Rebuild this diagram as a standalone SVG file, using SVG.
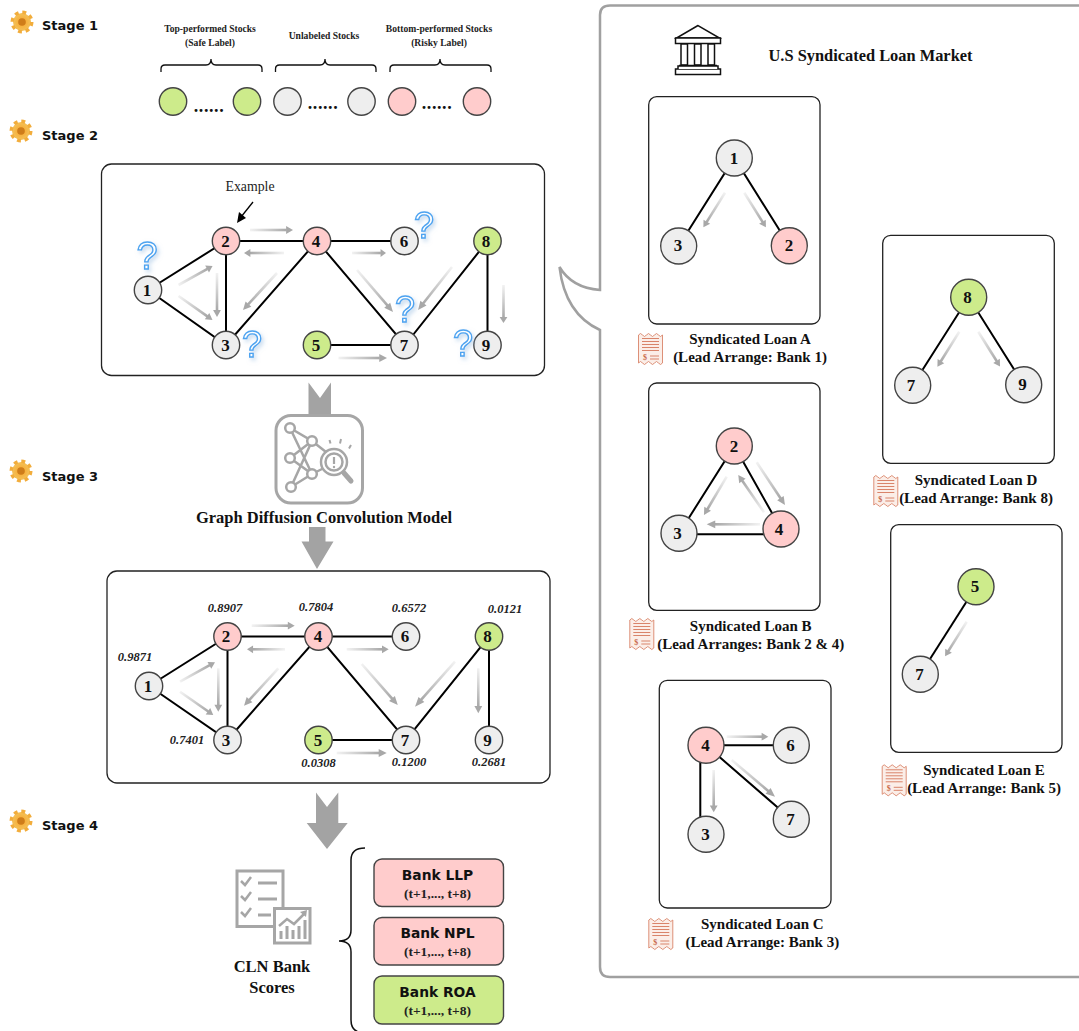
<svg xmlns="http://www.w3.org/2000/svg" xmlns:xlink="http://www.w3.org/1999/xlink" width="1079" height="1031" viewBox="0 0 1079 1031">
<style>
text{font-family:"Liberation Serif","Times New Roman",serif}
.st{font-family:"DejaVu Sans",sans-serif;font-weight:700;font-size:13px;fill:#111}
.b9{font-weight:700;font-size:9.600px;text-anchor:middle;fill:#222}
.dots{font-weight:700;font-size:18px;text-anchor:middle;fill:#111;letter-spacing:.6px}
.n{font-weight:700;font-size:17px;text-anchor:middle;fill:#111}
.m{font-weight:700;font-size:17px;text-anchor:middle;fill:#111}
.t{font-weight:700;font-size:16.500px;text-anchor:middle;fill:#111}
.s{font-weight:700;font-style:italic;font-size:12.500px;text-anchor:middle;fill:#222}
.cap{font-weight:700;font-size:15px;text-anchor:middle;fill:#111}
.bk{font-family:"DejaVu Sans",sans-serif;font-weight:700;font-size:13.800px;text-anchor:middle;fill:#111}
.sub{font-weight:700;font-size:13.500px;text-anchor:middle;fill:#222}
.q{font-family:"Liberation Sans",sans-serif;font-size:38px;text-anchor:middle;fill:#fff;stroke:#4da3f0;stroke-width:1.4;filter:url(#sh)}
.box{fill:#fff;stroke:#222;stroke-width:1.3}
.p{stroke:#444;stroke-width:1.4;fill:#ffcccc}
.g{stroke:#444;stroke-width:1.4;fill:#cdeb8b}
.w{stroke:#444;stroke-width:1.4;fill:#eeeeee}
.e{stroke:#000;stroke-width:2;fill:none}
.ic{fill:none;stroke:#a6a6a6;stroke-width:3}
.br{fill:none;stroke:#111;stroke-width:1.3}
.ar{fill:#a3a3a3}
.rl{stroke:#d9846a;stroke-width:1}
</style>
<defs>
<linearGradient id="fade"><stop offset="0" stop-color="#aaa" stop-opacity=".15"/><stop offset="1" stop-color="#a8a8a8"/></linearGradient>
<radialGradient id="org"><stop offset="0" stop-color="#e08a20"/><stop offset=".45" stop-color="#f7b23f"/><stop offset="1" stop-color="#f2c15a"/></radialGradient>
<filter id="sh" x="-40%" y="-40%" width="190%" height="190%"><feDropShadow dx="2" dy="2.5" stdDeviation="2" flood-color="#8fb6de" flood-opacity=".5"/></filter>
<g id="ga"><rect x="0" y="-1.300" width="85" height="2.600" fill="url(#fade)"/><polygon points="84,-3.900 100,0 84,3.900" fill="#a8a8a8"/></g>
<g id="gear"><circle r="9" fill="url(#org)"/><circle r="9.8" fill="none" stroke="#f2ad3c" stroke-width="3.4" stroke-dasharray="3.9 3.8"/><circle r="3.8" fill="#cf7d1a"/></g>
<g id="rc"><path d="M.5 3q2-3 4 0t4 0t4 0t4 0t4 0t4 0V31q-2 3-4 0t-4 0t-4 0t-4 0t-4 0t-4 0Z" fill="#fbeee8" stroke="#d9846a" stroke-width=".9"/>
<path class="rl" d="M4 6.500H21M4 9.500H21M4 12.500H21M4 15.500H21M4 18.500H21M12 24H21M12 27H21"/>
<text x="7" y="28" font-size="8" font-weight="700" text-anchor="middle" fill="#c9694a">$</text></g>
</defs>
<rect width="1079" height="1031" fill="#fff"/>

<g id="stage-labels">
<use href="#gear" x="22" y="22"/><text class="st" x="42" y="30">Stage 1</text>
<use href="#gear" x="21" y="131"/><text class="st" x="42" y="140">Stage 2</text>
<use href="#gear" x="21" y="471"/><text class="st" x="42" y="481">Stage 3</text>
<use href="#gear" x="21" y="821"/><text class="st" x="42" y="830">Stage 4</text>
</g>

<g id="stage1-legend">
<text class="b9" x="210" y="32">Top-performed Stocks</text><text class="b9" x="210" y="46">(Safe Label)</text>
<text class="b9" x="324" y="39">Unlabeled Stocks</text>
<text class="b9" x="439" y="32">Bottom-performed Stocks</text><text class="b9" x="439" y="46">(Risky Label)</text>
<path class="br" d="M161 72V69Q161 65 165 65H206Q211 65 211 59Q211 65 216 65H258Q262 65 262 69V72"/>
<path class="br" d="M275.500 72V69Q275.500 65 279.500 65H320Q325 65 325 59Q325 65 330 65H372Q376 65 376 69V72"/>
<path class="br" d="M390 72V69Q390 65 394 65H435Q440 65 440 59Q440 65 445 65H487Q491 65 491 69V72"/>
<circle class="g" cx="173" cy="101.500" r="13.700"/><circle class="g" cx="247" cy="101.500" r="13.700"/>
<circle class="w" cx="287.500" cy="101.500" r="13.700"/><circle class="w" cx="361.500" cy="101.500" r="13.700"/>
<circle class="p" cx="402" cy="101.500" r="13.700"/><circle class="p" cx="477" cy="101.500" r="13.700"/>
<text class="dots" x="209" y="112">......</text><text class="dots" x="323" y="109">......</text><text class="dots" x="437" y="109">......</text>
</g>

<rect id="stage2-box" class="box" x="101.500" y="164" width="443" height="211.500" rx="10"/>
<g id="connectors-stage2">
<path class="e" d="M226 241H317H405M148 290L226 241V345L148 290M226 345L317 241L405 345L487.500 241V345M317 345H405"/>
<use href="#ga" transform="translate(250 230) scale(.43 1)"/>
<use href="#ga" transform="translate(284 253) rotate(180) scale(.4 1)"/>
<use href="#ga" transform="translate(352 253) scale(.34 1)"/>
<use href="#ga" transform="translate(178.500 285) rotate(-29.200) scale(.39 1)"/>
<use href="#ga" transform="translate(178.500 296) rotate(35.200) scale(.416 1)"/>
<use href="#ga" transform="translate(217 273) rotate(90) scale(.44 1)"/>
<use href="#ga" transform="translate(277 273) rotate(132.600) scale(.502 1)"/>
<use href="#ga" transform="translate(357 270) rotate(49.400) scale(.553 1)"/>
<use href="#ga" transform="translate(452 267) rotate(128.300) scale(.548 1)"/>
<use href="#ga" transform="translate(503.500 285) rotate(90) scale(.38 1)"/>
<use href="#ga" transform="translate(338.500 358) scale(.485 1)"/>
<path d="M253 202L241 217" stroke="#000" stroke-width="1.300"/><polygon points="237,223 239,212 246,218" fill="#000"/>
</g>
<text x="250" y="191" font-size="13.800" text-anchor="middle" fill="#222">Example</text>
<g id="s2-n1"><circle class="w" cx="148" cy="290" r="13.700"/><text class="n" x="147" y="295.500">1</text></g>
<g id="s2-n2"><circle class="p" cx="226" cy="241" r="13.700"/><text class="n" x="225.500" y="246.500">2</text></g>
<g id="s2-n3"><circle class="w" cx="226" cy="345" r="13.700"/><text class="n" x="225.500" y="350.500">3</text></g>
<g id="s2-n4"><circle class="p" cx="317" cy="241" r="13.700"/><text class="n" x="316" y="246.500">4</text></g>
<g id="s2-n5"><circle class="g" cx="317" cy="345" r="13.700"/><text class="n" x="316" y="350.500">5</text></g>
<g id="s2-n6"><circle class="w" cx="404.500" cy="241" r="13.700"/><text class="n" x="404" y="246.500">6</text></g>
<g id="s2-n7"><circle class="w" cx="404.500" cy="345" r="13.700"/><text class="n" x="404" y="350.500">7</text></g>
<g id="s2-n8"><circle class="g" cx="487.500" cy="241" r="13.700"/><text class="n" x="486" y="246.500">8</text></g>
<g id="s2-n9"><circle class="w" cx="487.500" cy="345" r="13.700"/><text class="n" x="486" y="350.500">9</text></g>
<g id="question-marks">
<text class="q" x="147" y="269">?</text>
<text class="q" x="424" y="238" style="font-size:36px">?</text>
<text class="q" x="252" y="357" style="font-size:36px">?</text>
<text class="q" x="405" y="322" style="font-size:36px">?</text>
<text class="q" x="463" y="356" style="font-size:36px">?</text>
</g>

<polygon id="arrow-2-3" class="ar" points="308.500,382.500 320,398 331,382.500 331,418 308.500,418"/>
<g id="model-icon">
<rect x="276" y="415.500" width="86.500" height="87.500" rx="15" fill="#fff" stroke="#a6a6a6" stroke-width="3"/>
<path class="ic" d="M290 428L312 441L290 458L312 474L291 487M290 428L312 474M291 487L312 441M312 441L326 452M312 474L324 468M290 458L312 441" style="stroke-width:2.500"/>
<g fill="#fff" stroke="#a6a6a6" stroke-width="2.500"><circle cx="290" cy="428" r="4.800"/><circle cx="312" cy="441" r="4.800"/><circle cx="290" cy="458" r="4.800"/><circle cx="312" cy="474" r="4.800"/><circle cx="291" cy="487" r="4.800"/><circle cx="334" cy="462" r="13"/><circle cx="334" cy="462" r="8.500"/></g>
<path d="M344 473L351 481" stroke="#a6a6a6" stroke-width="5" stroke-linecap="round"/>
<path d="M329.500 440L330.500 443.500M341 439L340 443.500M351 445L349 448.500" stroke="#a6a6a6" stroke-width="2" fill="none"/>
<path d="M334 457V464" stroke="#a6a6a6" stroke-width="2.200"/><circle cx="334" cy="467" r="1.200" fill="#a6a6a6"/>
</g>
<text id="model-title" x="324" y="523" font-size="16.500" font-weight="700" text-anchor="middle" fill="#111">Graph Diffusion Convolution Model</text>
<polygon id="arrow-3" class="ar" points="309,527 325.500,527 325.500,541.500 333.500,541.500 317,569 301.500,541.500 309,541.500"/>

<rect id="stage3-box" class="box" x="107" y="571" width="443" height="212" rx="10"/>
<g id="connectors-stage3">
<path class="e" d="M227.500 636.500H318.500H406M149 686L227.500 636.500V740L149 686M227.500 740L318.500 636.500L406 740L489 636.500V740M318.500 740H406"/>
<use href="#ga" transform="translate(251.700 625.700) scale(.43 1)"/>
<use href="#ga" transform="translate(285 649.300) rotate(180) scale(.38 1)"/>
<use href="#ga" transform="translate(346.700 649.300) scale(.42 1)"/>
<use href="#ga" transform="translate(180 681.700) rotate(-29) scale(.4 1)"/>
<use href="#ga" transform="translate(180 691.700) rotate(35) scale(.406 1)"/>
<use href="#ga" transform="translate(218.300 668.300) rotate(90) scale(.434 1)"/>
<use href="#ga" transform="translate(278.300 668.300) rotate(132.500) scale(.507 1)"/>
<use href="#ga" transform="translate(361.700 664) rotate(48.700) scale(.546 1)"/>
<use href="#ga" transform="translate(455 661.700) rotate(131.600) scale(.602 1)"/>
<use href="#ga" transform="translate(478.300 668.300) rotate(90) scale(.45 1)"/>
<use href="#ga" transform="translate(336.700 753) scale(.5 1)"/>
</g>
<g id="s3-n1"><circle class="w" cx="149" cy="686" r="13.700"/><text class="n" x="148" y="691.500">1</text></g>
<g id="s3-n2"><circle class="p" cx="227.500" cy="636.500" r="13.700"/><text class="n" x="226" y="642">2</text></g>
<g id="s3-n3"><circle class="w" cx="227.500" cy="740" r="13.700"/><text class="n" x="226" y="745.500">3</text></g>
<g id="s3-n4"><circle class="p" cx="318.500" cy="636.500" r="13.700"/><text class="n" x="318" y="642">4</text></g>
<g id="s3-n5"><circle class="g" cx="318.500" cy="740" r="13.700"/><text class="n" x="318" y="745.500">5</text></g>
<g id="s3-n6"><circle class="w" cx="406" cy="636.500" r="13.700"/><text class="n" x="405" y="642">6</text></g>
<g id="s3-n7"><circle class="w" cx="406" cy="740" r="13.700"/><text class="n" x="405" y="745.500">7</text></g>
<g id="s3-n8"><circle class="g" cx="489" cy="636.500" r="13.700"/><text class="n" x="487.500" y="642">8</text></g>
<g id="s3-n9"><circle class="w" cx="489" cy="740" r="13.700"/><text class="n" x="487.500" y="745.500">9</text></g>
<g id="scores">
<text class="s" x="225" y="612">0.8907</text><text class="s" x="316" y="611">0.7804</text><text class="s" x="409" y="612">0.6572</text><text class="s" x="505" y="612.500">0.0121</text>
<text class="s" x="135" y="661">0.9871</text><text class="s" x="187" y="744">0.7401</text><text class="s" x="318.500" y="767">0.0308</text><text class="s" x="409" y="766">0.1200</text><text class="s" x="489" y="766">0.2681</text>
</g>

<polygon id="arrow-4" class="ar" points="316,792.500 327,807 338.300,792.500 338.300,823 347.700,823 327,849 306.700,823 316,823"/>
<g id="scores-icon">
<rect x="237" y="871" width="46" height="55.500" fill="#fff" stroke="#a6a6a6" stroke-width="3"/>
<path d="M241 881L245 885L251 877M241 896L245 900L251 892M241 912L245 916L251 908" fill="none" stroke="#a6a6a6" stroke-width="2.500"/>
<path d="M258 883H277M258 899H277M258 915H271" stroke="#a6a6a6" stroke-width="3"/>
<rect x="274.500" y="908.500" width="35.500" height="34.500" fill="#fff" stroke="#a6a6a6" stroke-width="3"/>
<path d="M279 926L287 919L294 924L305 913" fill="none" stroke="#a6a6a6" stroke-width="2.500"/><polygon points="300,912 307,910 306,917" fill="#a6a6a6"/>
<path d="M281 939V931M287 939V926M293 939V930M299 939V926M305 939V920" stroke="#a6a6a6" stroke-width="3"/>
</g>
<text class="t" x="272" y="972">CLN Bank</text><text class="t" x="272" y="993">Scores</text>
<path id="scores-brace" class="br" d="M365 848Q351 848 351 860V930Q351 941 339 941Q351 941 351 952V1020Q351 1033 365 1033" style="stroke-width:1.500"/>
<g id="bank-llp"><rect class="p" x="374" y="859" width="129.500" height="47.500" rx="8"/><text class="bk" x="437.500" y="880">Bank LLP</text><text class="sub" x="437.500" y="898">(t+1,..., t+8)</text></g>
<g id="bank-npl"><rect class="p" x="374" y="917.500" width="129.500" height="47.500" rx="8"/><text class="bk" x="437.500" y="938">Bank NPL</text><text class="sub" x="437.500" y="956">(t+1,..., t+8)</text></g>
<g id="bank-roa"><rect class="g" x="374" y="976" width="129.500" height="48" rx="8"/><text class="bk" x="437.500" y="997">Bank ROA</text><text class="sub" x="437.500" y="1015">(t+1,..., t+8)</text></g>

<path id="market-panel" d="M1085 5.500H610Q600 5.500 600 15V290Q572 288 559.500 267Q565 314 600 330V967Q600 977 610 977H1085" fill="#fff" stroke="#a0a0a0" stroke-width="2.500"/>
<g id="bank-icon" fill="#fff" stroke="#111" stroke-width="1.500">
<path d="M698 25.500L676.500 38H719.500Z"/><rect x="675.500" y="38" width="45" height="5.500"/>
<path d="M681 44V65H687.500V44ZM694.500 44V65H701V44ZM708 44V65H714.500V44Z"/>
<path d="M679 65.500H717"/><rect x="675.500" y="69" width="45" height="5.500"/><path d="M678 69V66H718V69"/>
</g>
<text x="870.500" y="61" font-size="16.400" font-weight="700" text-anchor="middle" fill="#111">U.S Syndicated Loan Market</text>

<rect id="panel-a" class="box" x="648.700" y="96.700" width="171.300" height="227.300" rx="8"/>
<rect id="panel-b" class="box" x="648.700" y="383" width="171.300" height="227.300" rx="8"/>
<rect id="panel-c" class="box" x="659.300" y="680.300" width="171.700" height="227.700" rx="8"/>
<rect id="panel-d" class="box" x="882.700" y="235.300" width="171.600" height="228" rx="8"/>
<rect id="panel-e" class="box" x="890.700" y="524.700" width="171.300" height="227.600" rx="8"/>
<g id="connectors-panels">
<path class="e" d="M678.700 246L734.300 158L789.300 245.700"/>
<path class="e" d="M679 533.500L734.300 446L781 529M679 534.300H781"/>
<path class="e" d="M791.300 745.300H706M700.300 750V834M706 745.300L791.300 819.300"/>
<path class="e" d="M912.700 385.300L968.700 297.300L1023.700 384.700"/>
<path class="e" d="M976 586.700L920.300 674.300"/>
<use href="#ga" transform="translate(725 192.700) rotate(122) scale(.408 1)"/>
<use href="#ga" transform="translate(744.300 192.700) rotate(58) scale(.408 1)"/>
<use href="#ga" transform="translate(756.700 462.300) rotate(56.500) scale(.512 1)"/>
<use href="#ga" transform="translate(764 512.300) rotate(-124.600) scale(.453 1)"/>
<use href="#ga" transform="translate(726.700 476.700) rotate(120.700) scale(.445 1)"/>
<use href="#ga" transform="translate(760 524.300) rotate(180) scale(.533 1)"/>
<use href="#ga" transform="translate(726.700 736.700) scale(.416 1)"/>
<use href="#ga" transform="translate(713.700 770) rotate(90) scale(.423 1)"/>
<use href="#ga" transform="translate(731.700 760) rotate(40.300) scale(.568 1)"/>
<use href="#ga" transform="translate(959.300 331.700) rotate(122) scale(.413 1)"/>
<use href="#ga" transform="translate(978.300 331.700) rotate(58) scale(.41 1)"/>
<use href="#ga" transform="translate(966.700 621.700) rotate(122) scale(.408 1)"/>
</g>
<g id="a-n1"><circle class="w" cx="734.300" cy="158" r="18"/><text class="m" x="734" y="164">1</text></g>
<g id="a-n3"><circle class="w" cx="678.700" cy="246" r="18"/><text class="m" x="678" y="250.500">3</text></g>
<g id="a-n2"><circle class="p" cx="789.300" cy="245.700" r="18"/><text class="m" x="789" y="250.500">2</text></g>
<g id="b-n2"><circle class="p" cx="734.300" cy="446" r="18"/><text class="m" x="734" y="451.500">2</text></g>
<g id="b-n3"><circle class="w" cx="679" cy="533.300" r="18"/><text class="m" x="677.500" y="538.500">3</text></g>
<g id="b-n4"><circle class="p" cx="781" cy="529" r="18"/><text class="m" x="779" y="534.500">4</text></g>
<g id="c-n4"><circle class="p" cx="706" cy="745.300" r="18"/><text class="m" x="705.500" y="750.500">4</text></g>
<g id="c-n6"><circle class="w" cx="791.300" cy="745.300" r="18"/><text class="m" x="790.500" y="750.500">6</text></g>
<g id="c-n3"><circle class="w" cx="706" cy="834.300" r="18"/><text class="m" x="705.500" y="839.500">3</text></g>
<g id="c-n7"><circle class="w" cx="791.300" cy="819.300" r="18"/><text class="m" x="790.500" y="824.500">7</text></g>
<g id="d-n8"><circle class="g" cx="968.700" cy="297.300" r="18"/><text class="m" x="967.500" y="302.500">8</text></g>
<g id="d-n7"><circle class="w" cx="912.700" cy="385.300" r="18"/><text class="m" x="911" y="391">7</text></g>
<g id="d-n9"><circle class="w" cx="1023.700" cy="384.700" r="18"/><text class="m" x="1022.500" y="389.500">9</text></g>
<g id="e-n5"><circle class="g" cx="976" cy="586.700" r="18"/><text class="m" x="975" y="592">5</text></g>
<g id="e-n7"><circle class="w" cx="920.300" cy="674.300" r="18"/><text class="m" x="919.500" y="679.500">7</text></g>
<g id="captions">
<use href="#rc" x="638" y="332"/><text class="cap" x="750" y="344">Syndicated Loan A</text><text class="cap" x="750" y="361.500">(Lead Arrange: Bank 1)</text>
<use href="#rc" x="629.300" y="617"/><text class="cap" x="750.700" y="631">Syndicated Loan B</text><text class="cap" x="750.700" y="649">(Lead Arranges: Bank 2 &amp; 4)</text>
<use href="#rc" x="648.300" y="917"/><text class="cap" x="762.300" y="929">Syndicated Loan C</text><text class="cap" x="762.300" y="946.700">(Lead Arrange: Bank 3)</text>
<use href="#rc" x="873.300" y="474"/><text class="cap" x="976" y="485">Syndicated Loan D</text><text class="cap" x="976" y="502.700">(Lead Arrange: Bank 8)</text>
<use href="#rc" x="881.700" y="763.300"/><text class="cap" x="984" y="775">Syndicated Loan E</text><text class="cap" x="984" y="792.700">(Lead Arrange: Bank 5)</text>
</g>
</svg>
